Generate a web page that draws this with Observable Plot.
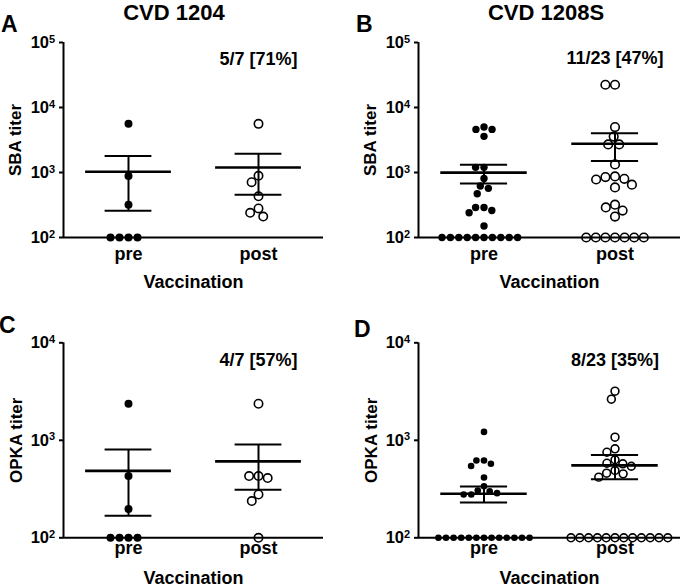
<!DOCTYPE html>
<html>
<head>
<meta charset="utf-8">
<script src="https://cdn.jsdelivr.net/npm/d3@7"></script>
<script src="https://cdn.jsdelivr.net/npm/@observablehq/plot@0.6"></script>
<style>
  body { margin: 0; background: #fff; }
  #root { position: relative; width: 680px; height: 587px; overflow: hidden; background: #fff;
          font-family: "Liberation Sans", Arial, sans-serif; font-weight: bold; color: #000; }
  .lbl { position: absolute; line-height: 0.8; white-space: nowrap; }
  .panel { position: absolute; }
</style>
</head>
<body>
<div id="root"></div>
<script>
// ---- data ----
const groups = ["pre", "post"];
const sbaTicks = [1e2, 1e3, 1e4, 1e5];
const opkaTicks = [1e2, 1e3, 1e4];

// A: CVD 1204, SBA titer
const sba1204Pre  = [5600, 880, 320, 100, 100, 100, 100];
const sba1204Post = [5600, 890, 710, 430, 280, 240, 210];
// B: CVD 1208S, SBA titer
const sba1208Pre  = [5000, 4600, 4600, 3600, 1200, 1200, 810, 620, 570, 470, 290, 290, 260, 240, 150,
                     100, 100, 100, 100, 100, 100, 100, 100, 100, 100];
const sba1208Post = [22400, 22400, 5000, 3570, 2700, 2700, 1330, 870, 850, 800, 780, 650, 590,
                     320, 290, 260, 210, 100, 100, 100, 100, 100, 100, 100];
// C: CVD 1204, OPKA titer
const opka1204Pre  = [2370, 430, 198, 100, 100, 100, 100];
const opka1204Post = [2370, 430, 430, 410, 278, 238, 100];
// D: CVD 1208S, OPKA titer
const opka1208Pre  = [1220, 620, 620, 575, 545, 415, 338, 305, 300, 287, 278, 278,
                      100, 100, 100, 100, 100, 100, 100, 100, 100, 100, 100, 100, 100];
const opka1208Post = [3190, 2640, 1076, 818, 755, 631, 582, 574, 542, 490, 460, 453, 419,
                      100, 100, 100, 100, 100, 100, 100, 100, 100, 100, 100, 100];

const letters = ["A", "B", "C", "D"];
const titles = ["CVD 1204", "CVD 1208S"];
const yLabels = ["SBA titer", "OPKA titer"];
const notes = ["5/7 [71%]", "11/23 [47%]", "4/7 [57%]", "8/23 [35%]"];
const xLabel = "Vaccination";

// ---- layout ----
const FONT = '"Liberation Sans", Arial, sans-serif';
const panels = [
  {pre: sba1204Pre,  post: sba1204Post,  ticks: sbaTicks,  ylabel: yLabels[0], note: notes[0],
   left: 0,   top: 0,   width: 340, height: 292, mt: 42,   mb: 55,   ml: 62, mr: 17,
   rPre: 4,   rPost: 4.2, padPre: 4,   padPost: 1.5, tickPad: 10, labelOff: 50, noteDy: 22, ylabDx: -43},
  {pre: sba1208Pre,  post: sba1208Post,  ticks: sbaTicks,  ylabel: yLabels[0], note: notes[1],
   left: 340, top: 0,   width: 340, height: 292, mt: 42,   mb: 55,   ml: 77, mr: 0,
   rPre: 3.7, rPost: 4.3, padPre: 0.4, padPost: 1.5, tickPad: 10, labelOff: 50, noteDy: 21, ylabDx: -43},
  {pre: opka1204Pre, post: opka1204Post, ticks: opkaTicks, ylabel: yLabels[1], note: notes[2],
   left: 0,   top: 290, width: 340, height: 297, mt: 52.3, mb: 49.7, ml: 62, mr: 17,
   rPre: 4,   rPost: 4.2, padPre: 4,   padPost: 1.5, tickPad: 3,  labelOff: 46, noteDy: 22.7, ylabDx: -42},
  {pre: opka1208Pre, post: opka1208Post, ticks: opkaTicks, ylabel: yLabels[1], note: notes[3],
   left: 340, top: 290, width: 340, height: 297, mt: 52.3, mb: 49.7, ml: 77, mr: 0,
   rPre: 3.3, rPost: 3.9, padPre: 0,   padPost: -0.6, tickPad: 3,  labelOff: 46, noteDy: 22.7, ylabDx: -42}
];

function makePanel(p) {
  const rows = [
    ...p.pre.map(v => ({group: "pre", value: v})),
    ...p.post.map(v => ({group: "post", value: v}))
  ];
  const stats = groups.map(g => {
    const vals = g === "pre" ? p.pre : p.post;
    const m = d3.mean(vals);
    const se = d3.deviation(vals) / Math.sqrt(vals.length);
    return {group: g, mean: m, hi: m + se, lo: m - se};
  });
  const first = () => groups[0];
  return Plot.plot({
    width: p.width, height: p.height,
    marginTop: p.mt, marginBottom: p.mb, marginLeft: p.ml, marginRight: p.mr,
    style: {fontFamily: FONT, fontWeight: "bold", fontSize: "17px", color: "black",
            background: "white", overflow: "visible"},
    x: {domain: [-1, 1], axis: null},
    fx: {domain: groups, padding: 0},
    y: {type: "log", domain: [p.ticks[0], p.ticks[p.ticks.length - 1]]},
    marks: [
      Plot.ruleY([p.ticks[0]], {strokeWidth: 2}),
      Plot.ruleX([groups[0]], {fx: d => d, x: -1, strokeWidth: 2}),
      // y ticks (marks only), labels drawn as base + exponent text
      Plot.axisY({ticks: p.ticks, tickFormat: () => "", tickSize: 4, strokeWidth: 2, label: null}),
      Plot.text(p.ticks, {fx: first, y: d => d, text: () => "10", frameAnchor: "left",
        textAnchor: "end", lineAnchor: "middle", dx: -14.5, fontSize: 16.5}),
      Plot.text(p.ticks, {fx: first, y: d => d, text: d => String(Math.round(Math.log10(d))),
        frameAnchor: "left", textAnchor: "start", lineAnchor: "bottom", dx: -14.5, dy: 0, fontSize: 11}),
      Plot.text([p.ylabel], {fx: first, text: d => d, frameAnchor: "left", rotate: -90,
        lineAnchor: "bottom", textAnchor: "middle", dx: p.ylabDx, fontSize: 17}),
      Plot.axisFx({
        anchor: "bottom", tickSize: 0, tickPadding: p.tickPad, fontSize: 18,
        label: xLabel, labelAnchor: "center", labelOffset: p.labelOff
      }),
      Plot.ruleY(stats, {fx: "group", y: "mean", x1: -0.66, x2: 0.66, strokeWidth: 2.6}),
      Plot.ruleX(stats, {fx: "group", x: 0, y1: "lo", y2: "hi", strokeWidth: 2}),
      Plot.ruleY(stats, {fx: "group", y: "hi", x1: -0.36, x2: 0.36, strokeWidth: 2}),
      Plot.ruleY(stats, {fx: "group", y: "lo", x1: -0.36, x2: 0.36, strokeWidth: 2}),
      Plot.dot(rows.filter(d => d.group === "pre"),
        Plot.dodgeX("middle", {fx: "group", y: "value", r: p.rPre, padding: p.padPre, fill: "black"})),
      Plot.dot(rows.filter(d => d.group === "post"),
        Plot.dodgeX("middle", {fx: "group", y: "value", r: p.rPost, padding: p.padPost,
          fill: "none", stroke: "black", strokeWidth: 1.6})),
      Plot.text([{group: "post", note: p.note}], {
        fx: "group", text: "note", frameAnchor: "top", lineAnchor: "bottom",
        dy: p.noteDy, fontSize: 18
      })
    ]
  });
}

const root = document.getElementById("root");
panels.forEach(p => {
  const div = document.createElement("div");
  div.className = "panel";
  div.style.left = p.left + "px";
  div.style.top = p.top + "px";
  div.appendChild(makePanel(p));
  root.appendChild(div);
});

// line-height 0.8 → baseline sits 0.7465em below the box top
function addLabel(text, fs, baseline, opts) {
  const d = document.createElement("div");
  d.className = "lbl";
  d.textContent = text;
  d.style.fontSize = fs + "px";
  d.style.top = (baseline - 0.7465 * fs) + "px";
  if (opts.center != null) {
    d.style.left = (opts.center - 150) + "px";
    d.style.width = "300px";
    d.style.textAlign = "center";
  } else {
    d.style.left = opts.left + "px";
  }
  root.appendChild(d);
}
// panel letters
addLabel(letters[0], 23, 31.7, {left: 1});
addLabel(letters[1], 23, 31.7, {left: 356});
addLabel(letters[2], 23, 333,  {left: -1});
addLabel(letters[3], 23, 337.5, {left: 354});
// column titles
addLabel(titles[0], 22, 20, {center: 174});
addLabel(titles[1], 22, 20, {center: 546});
</script>
</body>
</html>
